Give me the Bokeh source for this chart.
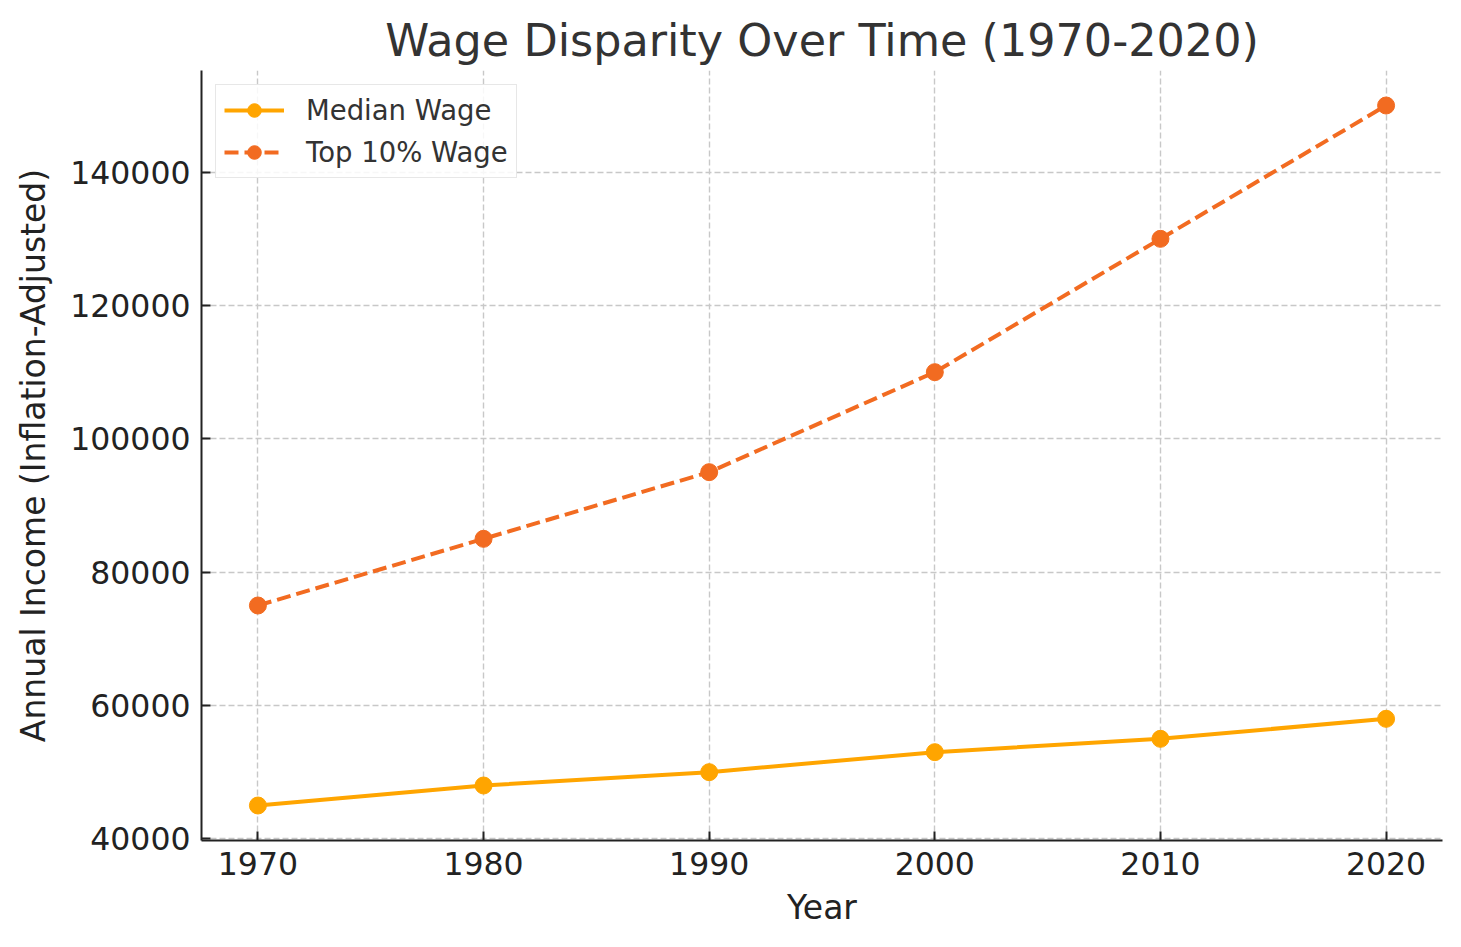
from bokeh.plotting import figure
from bokeh.models import FixedTicker, BasicTickFormatter, Range1d, Title
from bokeh.embed import file_html
from bokeh.resources import INLINE

years = [1970, 1980, 1990, 2000, 2010, 2020]
median_wage = [45000, 48000, 50000, 53000, 55000, 58000]
top10_wage = [75000, 85000, 95000, 110000, 130000, 150000]
x_ticks = [1970, 1980, 1990, 2000, 2010, 2020]
y_ticks = [40000, 60000, 80000, 100000, 120000, 140000]

MEDIAN_COLOR = "#FFA500"
TOP_COLOR = "#F26B21"
FONT = "DejaVu Sans"

p = figure(width=1461, height=947, output_backend="svg", toolbar_location=None,
           x_range=Range1d(1967.5, 2022.5), y_range=Range1d(39750, 155250),
           min_border_left=201, min_border_right=19, min_border_top=70, min_border_bottom=107)

p.title = Title(text="Wage Disparity Over Time (1970-2020)", align="center",
                text_font=FONT, text_font_size="44.5px", text_font_style="normal",
                text_color="#333333", standoff=9)

p.outline_line_color = None
p.background_fill_color = "white"
p.border_fill_color = "white"

for ax in (p.xaxis[0], p.yaxis[0]):
    ax.axis_line_color = "#222222"
    ax.axis_line_width = 2
    ax.major_tick_line_color = "#222222"
    ax.major_tick_line_width = 2
    ax.major_tick_in = 9
    ax.major_tick_out = 0
    ax.minor_tick_line_color = None
    ax.major_label_text_font = FONT
    ax.major_label_text_font_size = "31.5px"
    ax.major_label_text_color = "#222222"
    ax.axis_label_text_font = FONT
    ax.axis_label_text_font_size = "33px"
    ax.axis_label_text_font_style = "normal"
    ax.axis_label_text_color = "#222222"

p.xaxis.ticker = FixedTicker(ticks=x_ticks)
p.yaxis.ticker = FixedTicker(ticks=y_ticks)
p.yaxis.formatter = BasicTickFormatter(use_scientific=False)
p.xaxis.axis_label = "Year"
p.yaxis.axis_label = "Annual Income (Inflation-Adjusted)"
p.xaxis.major_label_standoff = 11
p.yaxis.major_label_standoff = 11
p.xaxis.axis_label_standoff = 10
p.yaxis.axis_label_standoff = 14

p.xgrid.ticker = FixedTicker(ticks=x_ticks)
p.ygrid.ticker = FixedTicker(ticks=y_ticks)
for g in (p.xgrid[0], p.ygrid[0]):
    g.grid_line_color = "#c8c8c8"
    g.grid_line_width = 1.4
    g.grid_line_dash = "6 3"

p.line(years, median_wage, line_color=MEDIAN_COLOR, line_width=4, legend_label="Median Wage")
p.scatter(years, median_wage, size=17, fill_color=MEDIAN_COLOR, line_color=MEDIAN_COLOR,
          legend_label="Median Wage")
p.line(years, top10_wage, line_color=TOP_COLOR, line_width=4, line_dash="14 6",
       legend_label="Top 10% Wage")
p.scatter(years, top10_wage, size=17, fill_color=TOP_COLOR, line_color=TOP_COLOR,
          legend_label="Top 10% Wage")

lg = p.legend[0]
lg.location = "top_left"
lg.margin = 14
lg.padding = 8
lg.spacing = 8
lg.glyph_width = 60
lg.glyph_height = 34
lg.label_height = 34
lg.label_standoff = 22
lg.label_text_font = FONT
lg.label_text_font_size = "27.5px"
lg.label_text_color = "#333333"
lg.border_line_color = "#d0d0d0"
lg.border_line_width = 1.5
lg.background_fill_alpha = 0.85

open("out.html", "w").write(file_html(p, INLINE))
